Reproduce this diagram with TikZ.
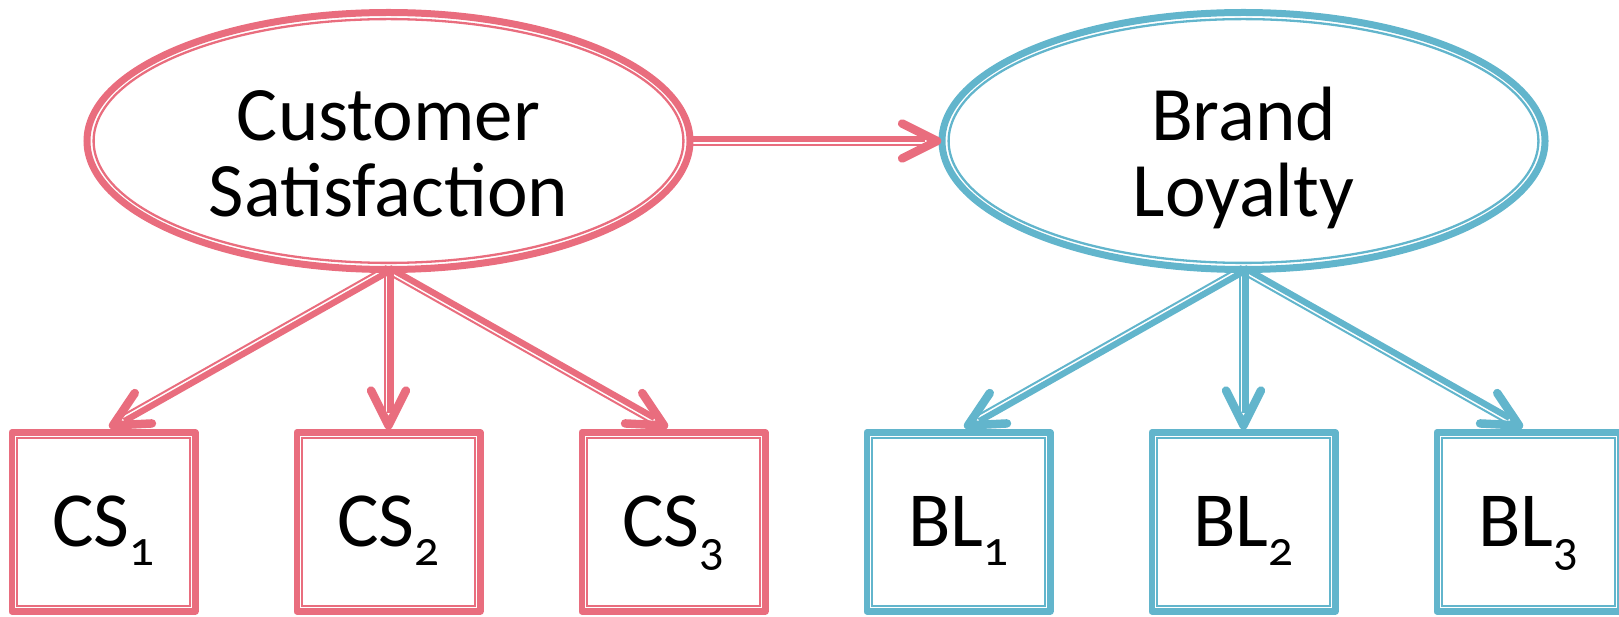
\documentclass[tikz,border=0pt]{standalone}
\usepackage{fontspec}
\setmainfont[Numbers=OldStyle]{Carlito}
\usetikzlibrary{calc,shapes.geometric}
\definecolor{cspink}{RGB}{233,109,126}
\definecolor{blblue}{RGB}{98,181,204}
\tikzset{
  latent/.style={ellipse, draw=#1, line width=7pt, inner sep=0pt, outer sep=0pt,
    minimum width=603pt, minimum height=257pt,
    font=\fontsize{77}{75}\selectfont, text height=160pt, text depth=8.6pt},
  manifest/.style={rectangle, draw=#1, line width=6.3pt, line join=round,
    inner sep=0pt, outer sep=0pt, minimum width=183.7pt, minimum height=178.9pt,
    font=\fontsize{78}{78}\selectfont, text height=60pt, text depth=10.4pt},
  thickpart/.style={draw=#1, line width=6.3pt, shorten >=12pt},
  thinpart/.style={draw=#1, line width=2pt, shorten >=12pt},
  chevron/.style={draw=#1, line width=8.5pt, line cap=round, line join=round},
}
\newcommand\mysub[1]{\raisebox{-19pt}{\fontsize{49}{49}\selectfont #1}}
\newcommand\innerbox[2]{\draw[#2, line width=2pt] ($(#1.south west)+(5.5,5.5)$) rectangle ($(#1.north east)-(5.5,5.5)$);}
\newcommand\innerell[2]{\draw[#2, line width=2.3pt] (#1.center) ellipse [x radius=294.9pt, y radius=121.9pt];}
\newcommand\link[3]{%
  \path[thickpart=#3] ($(#1)!1.85pt!90:(#2)$) -- ($(#2)!1.85pt!-90:(#1)$);
  \path[thinpart=#3] ($(#1)!4pt!-90:(#2)$) -- ($(#2)!4pt!90:(#1)$);
  \path[chevron=#3] ($(#2)!39pt!26.57:(#1)$) -- (#2) -- ($(#2)!39pt!-26.57:(#1)$);
}
\begin{document}
\begin{tikzpicture}[x=1pt,y=1pt]
\useasboundingbox (0,0) rectangle (1619,616);
% latent variables
\node[latent=cspink] (cs) at (388.5,475) {\begin{tabular}[b]{@{}c@{}}Customer\\Satisfaction\end{tabular}};
\node[latent=blblue] (bl) at (1243.5,475) {\begin{tabular}[b]{@{}c@{}}Brand\\Loyalty\end{tabular}};
\innerell{cs}{cspink}
\innerell{bl}{blblue}
% indicators
\node[manifest=cspink] (cs1) at (103.5,94.1) {CS\mysub{1}};
\node[manifest=cspink] (cs2) at (388.5,94.1) {CS\mysub{2}};
\node[manifest=cspink] (cs3) at (673.5,94.1) {CS\mysub{3}};
\node[manifest=blblue] (bl1) at (958.5,94.1) {BL\mysub{1}};
\node[manifest=blblue] (bl2) at (1243.5,94.1) {BL\mysub{2}};
\node[manifest=blblue] (bl3) at (1528.5,94.1) {BL\mysub{3}};
\foreach \n/\c in {cs1/cspink,cs2/cspink,cs3/cspink,bl1/blblue,bl2/blblue,bl3/blblue}{\innerbox{\n}{\c}}
% arrow end points
\coordinate (tbl) at ($(bl.west)+(-5,0)$);
\coordinate (tcs1) at ($(cs1.north)+(9.5,7)$);
\coordinate (tcs2) at ($(cs2.north)+(0,7)$);
\coordinate (tcs3) at ($(cs3.north)+(-9.5,7)$);
\coordinate (tbl1) at ($(bl1.north)+(9.5,7)$);
\coordinate (tbl2) at ($(bl2.north)+(0,7)$);
\coordinate (tbl3) at ($(bl3.north)+(-9.5,7)$);
% connectors
\link{cs.east}{tbl}{cspink}
\link{cs.south}{tcs1}{cspink}
\link{cs.south}{tcs2}{cspink}
\link{cs.south}{tcs3}{cspink}
\link{bl.south}{tbl1}{blblue}
\link{bl.south}{tbl2}{blblue}
\link{bl.south}{tbl3}{blblue}
\end{tikzpicture}
\end{document}
